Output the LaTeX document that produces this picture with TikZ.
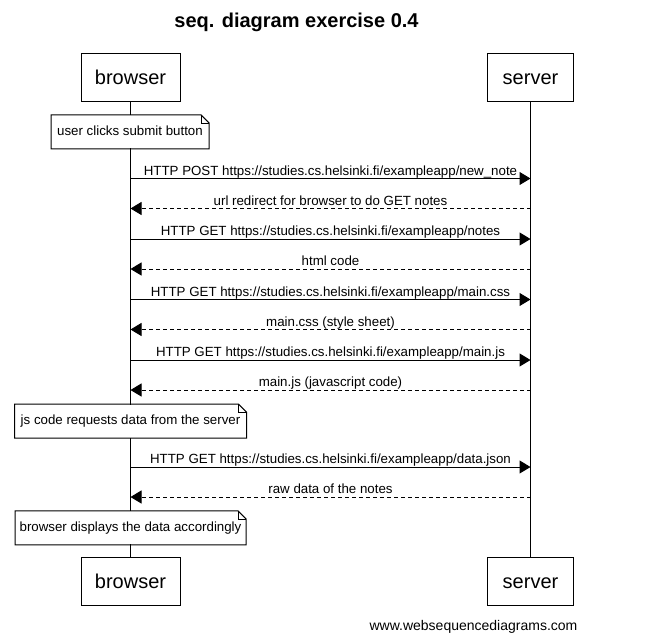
\documentclass[tikz,border=0pt]{standalone}
\usepackage{fontspec}
\setmainfont{Liberation Sans}
\usetikzlibrary{arrows.meta,calc}
\newcommand\notefold[1]{%
  \draw (#1.south west) -- (#1.north west) -- ($(#1.north east)+(-8,0)$) -- ($(#1.north east)+(0,8)$) -- (#1.south east) -- cycle;
  \draw[line width=0.6pt] ($(#1.north east)+(-8,0)$) -- ($(#1.north east)+(-8,8)$) -- ($(#1.north east)+(0,8)$);}
\begin{document}
\begin{tikzpicture}[x=1pt,y=-1pt,line width=1pt,
  actor/.style={draw, fill=white, minimum height=48pt, inner sep=0pt,
    font=\fontsize{20}{24}\selectfont, text height=14.3pt, text depth=0pt},
  notebox/.style={fill=white, minimum height=33pt, inner sep=0pt,
    font=\fontsize{13.3}{16}\selectfont, text height=9.6pt, text depth=2.8pt},
  msg/.style={-{Triangle[length=11pt,width=13pt]}},
  reply/.style={msg, dash pattern=on 4pt off 3pt},
  lbl/.style={font=\fontsize{13.3}{16}\selectfont, anchor=base, yshift=3.5pt, inner sep=0pt}]
\useasboundingbox[fill=white] (0,0) rectangle (653,640);

\node[font=\bfseries\fontsize{20}{24}\selectfont, anchor=base] (title) at (296.5,27.3) {seq. diagram exercise 0.4};

\node[actor, minimum width=99pt] (bt) at (130.5,77) {browser};
\node[actor, minimum width=86pt] (st) at (530.5,77) {server};
\node[actor, minimum width=99pt] (bb) at (130.5,581.7) {browser};
\node[actor, minimum width=86pt] (sb) at (530.5,581.7) {server};

\draw (bt) -- (bb);
\draw (st) -- (sb);

\foreach \i/\y in {1/178.5,2/208.5,3/239,4/269,5/299.5,6/329.5,7/360,8/390,9/467,10/497}{
  \coordinate (b\i) at (130.5,\y);
  \coordinate (s\i) at (530.5,\y);
}

\node[notebox, minimum width=157pt] (n1) at (130,131.8) {user clicks submit button};
\notefold{n1}

\draw[msg] (b1) -- node[lbl] (l1) {HTTP POST https://studies.cs.helsinki.fi/exampleapp/new\_note} (s1);
\draw[reply] (s2) -- node[lbl] (l2) {url redirect for browser to do GET notes} (b2);
\draw[msg] (b3) -- node[lbl] (l3) {HTTP GET https://studies.cs.helsinki.fi/exampleapp/notes} (s3);
\draw[reply] (s4) -- node[lbl] (l4) {html code} (b4);
\draw[msg] (b5) -- node[lbl] (l5) {HTTP GET https://studies.cs.helsinki.fi/exampleapp/main.css} (s5);
\draw[reply] (s6) -- node[lbl] (l6) {main.css (style sheet)} (b6);
\draw[msg] (b7) -- node[lbl] (l7) {HTTP GET https://studies.cs.helsinki.fi/exampleapp/main.js} (s7);
\draw[reply] (s8) -- node[lbl] (l8) {main.js (javascript code)} (b8);

\node[notebox, minimum width=231pt] (n2) at (130.5,421.2) {js code requests data from the server};
\notefold{n2}

\draw[msg] (b9) -- node[lbl] (l9) {HTTP GET https://studies.cs.helsinki.fi/exampleapp/data.json} (s9);
\draw[reply] (s10) -- node[lbl] (l10) {raw data of the notes} (b10);

\node[notebox, minimum width=230pt] (n3) at (130.5,527.9) {browser displays the data accordingly};
\notefold{n3}

\node[font=\fontsize{14}{17}\selectfont, anchor=base] (foot) at (473.5,630) {www.websequencediagrams.com};
\end{tikzpicture}
\end{document}
